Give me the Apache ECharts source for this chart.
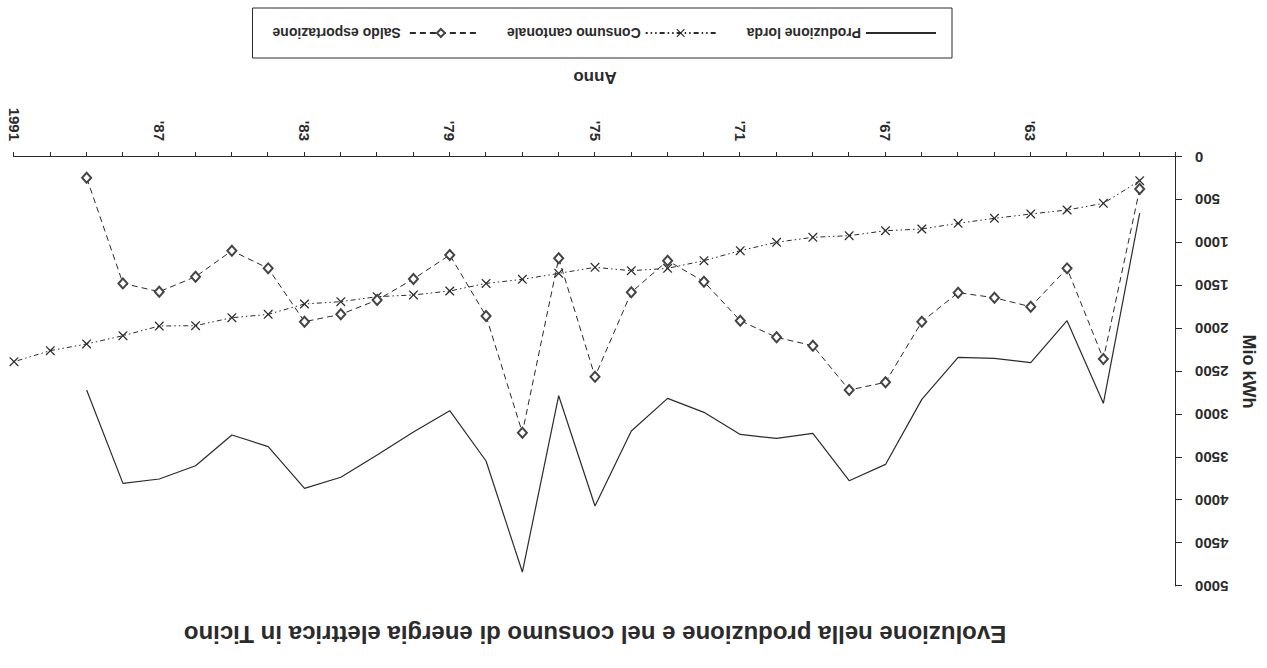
<!DOCTYPE html>
<html>
<head>
<meta charset="utf-8">
<title>Produzione e consumo di energia elettrica in Ticino</title>
<script src="https://cdn.jsdelivr.net/npm/echarts/dist/echarts.min.js"></script>
<style>
  html, body { margin: 0; padding: 0; background: #fff; }
  /* the scanned original is upside down, so the whole chart is turned round */
  #chart { width: 1267px; height: 668px; transform: rotate(180deg); }
</style>
</head>
<body>
<div id="chart"></div>
<script>
// anni 1960 - 1991
const years = [1960, 1961, 1962, 1963, 1964, 1965, 1966, 1967, 1968, 1969,
  1970, 1971, 1972, 1973, 1974, 1975, 1976, 1977, 1978, 1979,
  1980, 1981, 1982, 1983, 1984, 1985, 1986, 1987, 1988, 1989, 1990, 1991]

// Mio kWh
const produzioneLorda = [653, 2871, 1908, 2397, 2347, 2335, 2825, 3583, 3773, 3221,
  3280, 3233, 2976, 2813, 3193, 4068, 2782, 4837, 3543, 2957,
  3205, 3473, 3733, 3862, 3376, 3240, 3598, 3753, 3804, 2716, null, null]
const consumoCantonale = [276, 540, 618, 664, 715, 773, 839, 859, 917, 936,
  994, 1092, 1208, 1298, 1325, 1286, 1356, 1426, 1473, 1562,
  1608, 1628, 1686, 1713, 1834, 1873, 1966, 1970, 2083, 2179, 2257, 2386]
const saldoEsportazione = [373, 2354, 1298, 1745, 1640, 1581, 1920, 2626, 2716, 2199,
  2102, 1908, 1453, 1208, 1577, 2560, 1181, 3213, 1853, 1142,
  1422, 1667, 1834, 1919, 1298, 1092, 1395, 1570, 1473, 241, null, null]

const tickYears = [1963, 1967, 1971, 1975, 1979, 1983, 1987, 1991]
const tickLabels = ["'63", "'67", "'71", "'75", "'79", "'83", "'87", '1991']

const ink = '#2b2b2b'
const font = 'Liberation Sans, Arial, sans-serif'
const crossMark = 'path://M0,0 L1,0 L5,4 L9,0 L10,0 L10,1 L6,5 L10,9 L10,10 L9,10 L5,6 L1,10 L0,10 L0,9 L4,5 L0,1 Z'

const pairs = vals => years.map((y, i) => [y, vals[i]])

const chart = echarts.init(document.getElementById('chart'), null, { renderer: 'svg' })
chart.setOption({
  animation: false,
  textStyle: { fontFamily: font, color: ink },
  title: {
    text: 'Evoluzione nella produzione e nel consumo di energia elettrica in Ticino',
    left: 667,
    textAlign: 'center',
    top: 17,
    textStyle: { fontFamily: font, fontSize: 24, fontWeight: 'bold', color: ink }
  },
  legend: {
    left: 315,
    top: 610,
    padding: [18, 20, 18, 15],
    borderColor: ink,
    borderWidth: 1,
    itemWidth: 70,
    itemHeight: 10,
    itemGap: 30,
    textStyle: { fontFamily: font, fontSize: 14, fontWeight: 'bold', color: ink },
    data: [
      { name: 'Produzione lorda', itemStyle: { opacity: 0 } },
      'Consumo cantonale',
      'Saldo esportazione'
    ]
  },
  grid: { left: 91, right: 14, top: 82, bottom: 157 },
  xAxis: {
    type: 'value',
    min: 1959,
    max: 1991,
    interval: 1,
    name: 'Anno',
    nameLocation: 'middle',
    nameGap: 71,
    nameTextStyle: { fontFamily: font, fontSize: 17, fontWeight: 'bold', color: ink },
    axisLine: { lineStyle: { color: ink, width: 1 } },
    axisTick: { length: 5, lineStyle: { color: ink } },
    axisLabel: {
      rotate: 90,
      margin: 16,
      fontSize: 15,
      fontWeight: 'bold',
      color: ink,
      formatter: v => {
        const k = tickYears.indexOf(v)
        return k < 0 ? '' : tickLabels[k]
      }
    },
    splitLine: { show: false }
  },
  yAxis: {
    type: 'value',
    min: 0,
    max: 5000,
    interval: 500,
    name: 'Mio kWh',
    nameLocation: 'middle',
    nameGap: 64,
    nameTextStyle: { fontFamily: font, fontSize: 18, fontWeight: 'bold', color: ink },
    axisLine: { show: true, lineStyle: { color: ink, width: 1 } },
    axisTick: { show: true, length: 6, lineStyle: { color: ink } },
    axisLabel: {
      margin: 19,
      fontSize: 15,
      fontWeight: 'bold',
      color: ink,
      formatter: v => String(v)
    },
    splitLine: { show: false }
  },
  series: [
    {
      name: 'Produzione lorda',
      type: 'line',
      data: pairs(produzioneLorda),
      symbol: 'none',
      color: ink,
      lineStyle: { color: ink, width: 1.2, type: 'solid' }
    },
    {
      name: 'Consumo cantonale',
      type: 'line',
      data: pairs(consumoCantonale),
      symbol: crossMark,
      symbolSize: 9,
      color: ink,
      itemStyle: { color: ink },
      lineStyle: { color: ink, width: 1, type: [5, 3, 1.5, 3, 1.5, 3] }
    },
    {
      name: 'Saldo esportazione',
      type: 'line',
      data: pairs(saldoEsportazione),
      symbol: 'emptyDiamond',
      symbolSize: [9, 10],
      color: '#444',
      itemStyle: { color: '#444', borderWidth: 0.8 },
      lineStyle: { color: ink, width: 1, type: [6, 4] }
    }
  ]
})
</script>
</body>
</html>
